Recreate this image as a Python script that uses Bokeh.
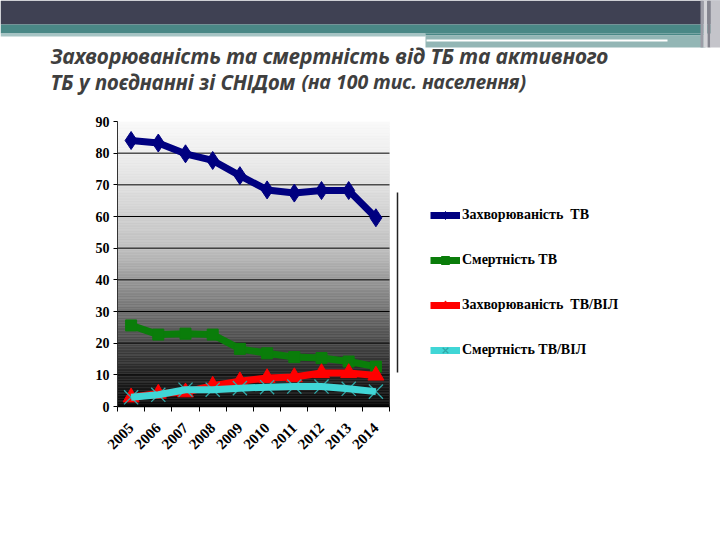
import numpy as np
from math import pi
from bokeh.plotting import figure
from bokeh.models import Range1d, FixedTicker, Legend, LegendItem
from bokeh.core.properties import value
from bokeh.embed import file_html
from bokeh.resources import INLINE

# ---------------- data ----------------
years = ["2005", "2006", "2007", "2008", "2009", "2010", "2011", "2012", "2013", "2014"]
tb_incidence = [84.0, 83.2, 79.8, 77.7, 72.9, 68.4, 67.4, 68.2, 68.2, 59.6]
tb_mortality = [25.6, 22.7, 23.0, 22.7, 18.2, 16.8, 15.6, 15.3, 14.2, 12.6]
tbhiv_incidence = [2.9, 4.1, 4.5, 6.6, 8.0, 9.0, 9.3, 10.6, 10.6, 9.8]
tbhiv_mortality = [2.9, 3.7, 5.3, 5.3, 5.8, 6.1, 6.3, 6.3, 5.6, 4.7]
y_ticks = [0, 10, 20, 30, 40, 50, 60, 70, 80, 90]
series_labels = ["Захворюваність  ТВ", "Смертність ТВ", "Захворюваність  ТВ/ВІЛ", "Смертність ТВ/ВІЛ"]
title_line1 = "Захворюваність та смертність від ТБ та  активного"
title_line2a = "ТБ у поєднанні зі СНІДом"
title_line2b = "(на 100 тис. населення)"

n = len(years)
centers = [i + 0.5 for i in range(n)]
bounds = list(range(n + 1))

HDR_H = 100

# ---------------- header (pixel coordinates) ----------------
hdr = figure(width=720, height=HDR_H, x_range=Range1d(0, 720), y_range=Range1d(HDR_H, 0),
             output_backend="svg", toolbar_location=None, min_border=0,
             x_axis_location=None, y_axis_location=None)
hdr.grid.visible = False
hdr.outline_line_color = None
hdr.background_fill_color = "white"
hdr.border_fill_color = "white"

bands = [
    (0, 720, 0, 24, "#3f4153"),
    (0, 720, 24, 33, "#4a8886"),
    (0, 425, 33, 36, "#a6c4c4"),
    (425, 705, 33, 35, "#4a8886"),
    (425, 705, 35, 47, "#93b6b5"),
    (426, 667, 39, 41, "#ffffff"),
    (700, 703, 0, 47, "#9c9ca6"),
    (703, 707, 0, 47, "#d4d4d8"),
    (707, 710, 0, 47, "#84848e"),
    (710, 720, 0, 47, "#c4c4ca"),
]
hdr.quad(left=[b[0] for b in bands], right=[b[1] for b in bands],
         top=[b[2] for b in bands], bottom=[b[3] for b in bands],
         fill_color=[b[4] for b in bands], line_color=None)

title_kw = dict(text_font=value("Noto Sans"), text_font_style="bold italic",
                text_color="#3f3f3f", text_baseline="alphabetic", text_align="left")
hdr.text(x=[50], y=[55], text=[title_line1], text_font_size="21px", **title_kw)
hdr.text(x=[50], y=[81], text=[title_line2a], text_font_size="20.5px", **title_kw)
hdr.text(x=[301], y=[81], text=[title_line2b], text_font_size="19.5px", **title_kw)

# ---------------- chart ----------------
px_per_cat = 27.2
frame_w = 720 - 117 - 20
p = figure(width=720, height=540 - HDR_H,
           x_range=Range1d(0, frame_w / px_per_cat), y_range=Range1d(0, 90),
           output_backend="svg", toolbar_location=None,
           min_border_left=117, min_border_right=20, min_border_top=121 - HDR_H,
           min_border_bottom=134)
p.outline_line_color = None
p.background_fill_color = "white"
p.border_fill_color = "white"
p.xgrid.visible = False
p.ygrid.visible = False

# gradient background of plot area
stops_v = [0, 10, 20, 30, 40, 45, 50, 60, 70, 80, 90]
stops_g = [10, 36, 72, 112, 152, 174, 192, 208, 224, 238, 250]
edges = np.arange(0, 90.5, 0.5)
lo, hi = edges[:-1], edges[1:]
g = np.interp((lo + hi) / 2, stops_v, stops_g).astype(int)
cols = ["#%02x%02x%02x" % (v, v, v) for v in g]
p.quad(left=0, right=n, bottom=lo, top=hi, fill_color=cols, line_color=cols, line_width=0.5)

# gridlines
p.segment(x0=0, x1=n, y0=y_ticks[1:-1], y1=y_ticks[1:-1], line_color="black", line_width=1)

# series
r1l = p.line(centers, tb_incidence, line_color="#000080", line_width=7, line_join="round")
r1m = p.scatter(centers, tb_incidence, marker="diamond", size=18, fill_color="#000080", line_color="#000080")
r2l = p.line(centers, tb_mortality, line_color="#0a7d0a", line_width=7, line_join="round")
r2m = p.scatter(centers, tb_mortality, marker="square", size=11, fill_color="#0a7d0a", line_color="#0a7d0a")
r3l = p.line(centers, tbhiv_incidence, line_color="#ff0000", line_width=7, line_join="round")
r3m = p.scatter(centers, tbhiv_incidence, marker="triangle", size=16, fill_color="#ff0000", line_color="#ff0000")
r4m = p.scatter(centers, tbhiv_mortality, marker="x", size=20, line_color="#2fa8a8", line_width=1.3)
r4l = p.line(centers, tbhiv_mortality, line_color="#40d6d6", line_width=7, line_join="round")

# axes
ya = p.yaxis[0]
ya.ticker = FixedTicker(ticks=y_ticks)
ya.bounds = (0, 90)
ya.axis_line_color = "#333333"
ya.major_tick_out = 4
ya.major_tick_in = 0
ya.minor_tick_line_color = None
ya.major_label_text_font = "Liberation Serif"
ya.major_label_text_font_style = "bold"
ya.major_label_text_font_size = "14px"
ya.major_label_text_color = "black"
ya.major_label_standoff = 4

xa = p.xaxis[0]
xa.ticker = FixedTicker(ticks=centers, minor_ticks=bounds)
xa.major_label_overrides = {c: y for c, y in zip(centers, years)}
xa.bounds = (0, n)
xa.axis_line_color = "black"
xa.axis_line_width = 1.5
xa.major_tick_out = 0
xa.major_tick_in = 0
xa.minor_tick_out = 5
xa.minor_tick_in = 0
xa.minor_tick_line_color = "black"
xa.major_label_orientation = pi / 4
xa.major_label_text_font = "Liberation Serif"
xa.major_label_text_font_style = "bold"
xa.major_label_text_font_size = "15px"
xa.major_label_text_color = "black"
xa.major_label_standoff = 14

# legend separator line
sep_x = (397 - 117) / px_per_cat
p.segment(x0=[sep_x], x1=[sep_x], y0=[10.7], y1=[67.6], line_color="#222222", line_width=1.5)

legend = Legend(items=[
    LegendItem(label=series_labels[0], renderers=[r1l, r1m]),
    LegendItem(label=series_labels[1], renderers=[r2l, r2m]),
    LegendItem(label=series_labels[2], renderers=[r3l, r3m]),
    LegendItem(label=series_labels[3], renderers=[r4l, r4m]),
], location=(313, 46))
legend.border_line_color = None
legend.background_fill_alpha = 0
legend.label_text_font = "Liberation Serif"
legend.label_text_font_style = "bold"
legend.label_text_font_size = "14px"
legend.label_text_color = "black"
legend.glyph_width = 30
legend.glyph_height = 20
legend.label_height = 20
legend.spacing = 25
legend.padding = 0
legend.margin = 0
legend.label_standoff = 2
p.add_layout(legend)

open("out.html", "w").write(file_html((hdr, p), INLINE))
